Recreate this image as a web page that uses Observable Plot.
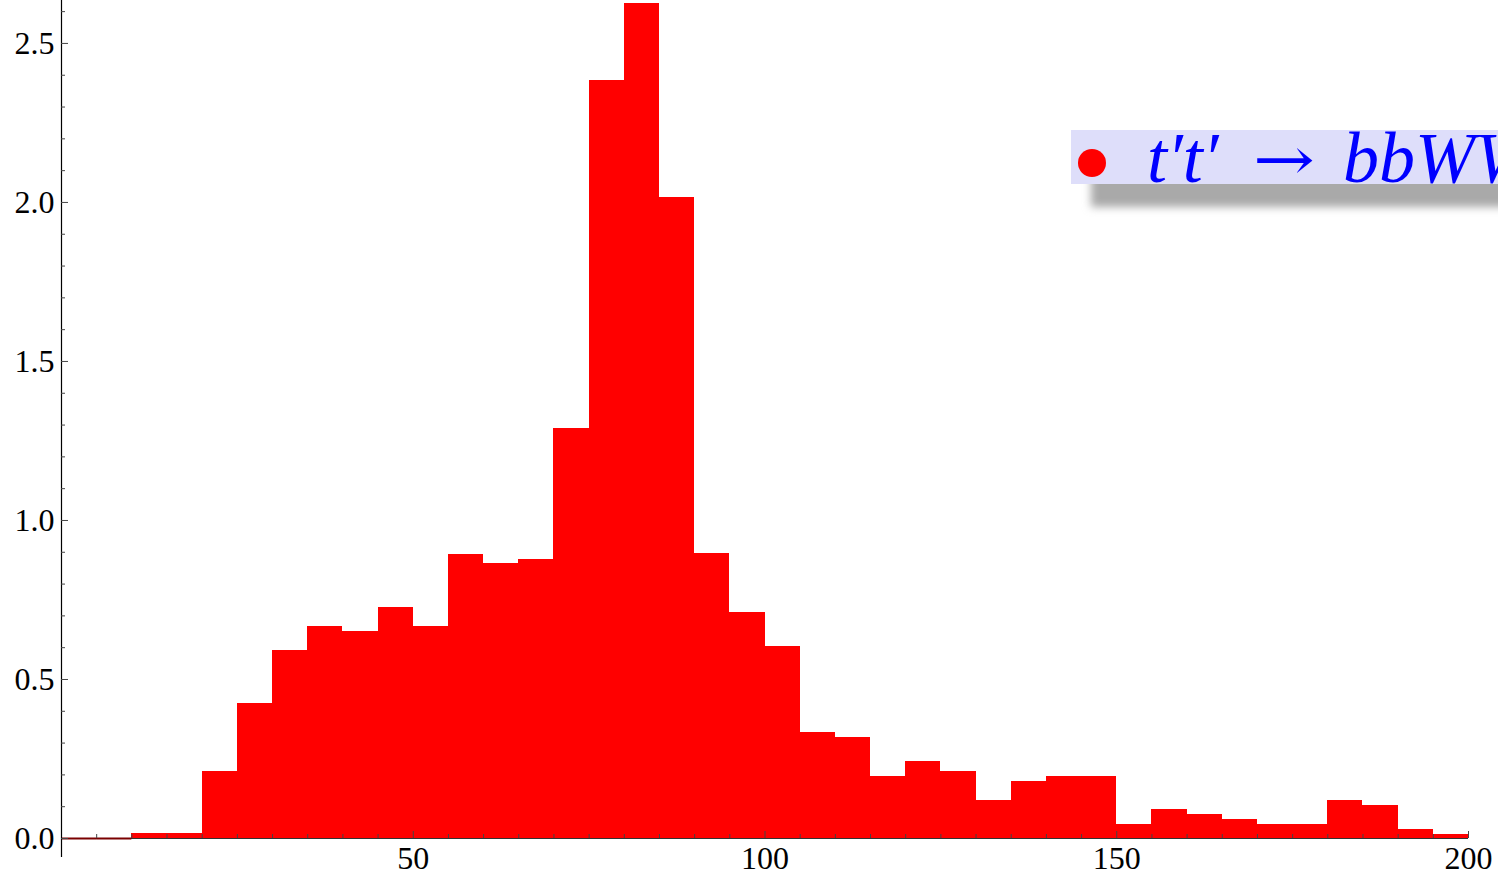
<!DOCTYPE html>
<html><head><meta charset="utf-8">
<script src="https://cdn.jsdelivr.net/npm/d3@7"></script>
<script src="https://cdn.jsdelivr.net/npm/@observablehq/plot@0.6"></script>
<style>
html,body{margin:0;padding:0;background:#fff;overflow:hidden}
#wrap{position:relative;width:1498px;height:875px;overflow:hidden}
</style>
</head><body>
<div id="wrap"></div>
<script>
// histogram bins (lower and upper edges)
const binLow  = [0,5,10,15,20,25,30,35,40,45,50,55,60,65,70,75,80,85,90,95,100,105,110,115,120,125,130,135,140,145,150,155,160,165,170,175,180,185,190,195];
const binHigh = [5,10,15,20,25,30,35,40,45,50,55,60,65,70,75,80,85,90,95,100,105,110,115,120,125,130,135,140,145,150,155,160,165,170,175,180,185,190,195,200];
const values  = [0,0,0.015,0.015,0.212,0.424,0.591,0.667,0.652,0.726,0.667,0.894,0.864,0.878,1.289,2.383,2.626,2.017,0.895,0.711,0.604,0.332,0.318,0.195,0.241,0.211,0.121,0.180,0.195,0.195,0.044,0.090,0.074,0.060,0.044,0.044,0.119,0.105,0.028,0.014];

const xMajorTicks = [50,100,150,200];
const xMinorTicks = [5,10,15,20,25,30,35,40,45,55,60,65,70,75,80,85,90,95,105,110,115,120,125,130,135,140,145,155,160,165,170,175,180,185,190,195];
const yMajorTicks = [0,0.5,1.0,1.5,2.0,2.5];
const yMinorTicks = [0.1,0.2,0.3,0.4,0.6,0.7,0.8,0.9,1.1,1.2,1.3,1.4,1.6,1.7,1.8,1.9,2.1,2.2,2.3,2.4,2.6];

const legendLabel = ["t\u2032t\u2032", "\u2192", "bbWW"];

const data = binLow.map((lo, i) => ({lo, hi: binHigh[i], v: values[i]}));

const chart = Plot.plot({
  width: 1498, height: 875,
  marginLeft: 61, marginRight: 30, marginTop: 0, marginBottom: 37,
  x: {domain: [0, 200]},
  y: {domain: [0, 2.635]},
  style: {fontFamily: "'Liberation Serif', serif", fontSize: "32px", color: "#000", background: "#fff", overflow: "visible"},
  marks: [
    Plot.rectY(data.filter(d => d.v > 0), {x1: "lo", x2: "hi", y: "v", fill: "#ff0000", shapeRendering: "crispEdges"}),
    Plot.ruleY([0], {stroke: "#333", strokeWidth: 1.2}),
    Plot.ruleY(data.filter(d => d.v === 0), {x1: "lo", x2: "hi", y: 0, stroke: "#7a0000", strokeWidth: 2}),
    Plot.ruleX([0], {stroke: "#000", strokeWidth: 1.2, insetBottom: -19}),
    Plot.axisY({ticks: yMinorTicks, tickSize: -4, tickFormat: () => "", label: null, stroke: "#444"}),
    Plot.axisY({ticks: yMajorTicks, tickSize: -7, tickFormat: () => "", label: null, stroke: "#444"}),
    Plot.axisY({ticks: yMajorTicks, tickSize: 0, tickPadding: 7, tickFormat: d3.format(".1f"), label: null}),
    Plot.axisX({ticks: xMinorTicks, tickSize: -4, tickFormat: () => "", label: null, stroke: "#444"}),
    Plot.axisX({ticks: xMajorTicks, tickSize: -7, tickFormat: () => "", label: null, stroke: "#444"}),
    Plot.axisX({ticks: xMajorTicks, tickSize: 0, tickPadding: 8, tickFormat: d => String(d), label: null})
  ]
});
document.getElementById("wrap").appendChild(chart);

// legend (decoration, drawn over the plot, clipped at right edge like the original)
const svg = d3.select(chart);
const defs = svg.append("defs");
defs.append("filter").attr("id", "shadowBlur").attr("x", "-10%").attr("y", "-50%").attr("width", "120%").attr("height", "200%")
  .append("feGaussianBlur").attr("stdDeviation", 4);
const lg = svg.append("g").attr("text-anchor", "start");
lg.append("rect").attr("x", 1091).attr("y", 152).attr("width", 500).attr("height", 55)
  .attr("fill", "#a9a9a9").attr("filter", "url(#shadowBlur)");
lg.append("rect").attr("x", 1071).attr("y", 130).attr("width", 500).attr("height", 54).attr("fill", "#dedefa");
lg.append("circle").attr("cx", 1092).attr("cy", 163).attr("r", 14).attr("fill", "#ff0000");
const font = "'Liberation Serif', serif";
lg.append("text").attr("x", 1147).attr("y", 182).attr("fill", "#0000ff").attr("text-anchor", "start")
  .style("font-family", font).style("font-size", "72px").style("font-style", "italic").text(legendLabel[0]);
lg.append("text").attr("x", 1253).attr("y", 180).attr("fill", "#0000ff").attr("text-anchor", "start")
  .attr("textLength", 62).attr("lengthAdjust", "spacingAndGlyphs")
  .style("font-family", "'DejaVu Serif', serif").style("font-size", "60px").text(legendLabel[1]);
lg.append("text").attr("x", 1343).attr("y", 182).attr("fill", "#0000ff").attr("text-anchor", "start")
  .style("font-family", font).style("font-size", "72px").style("font-style", "italic").text(legendLabel[2]);
</script>
</body></html>
